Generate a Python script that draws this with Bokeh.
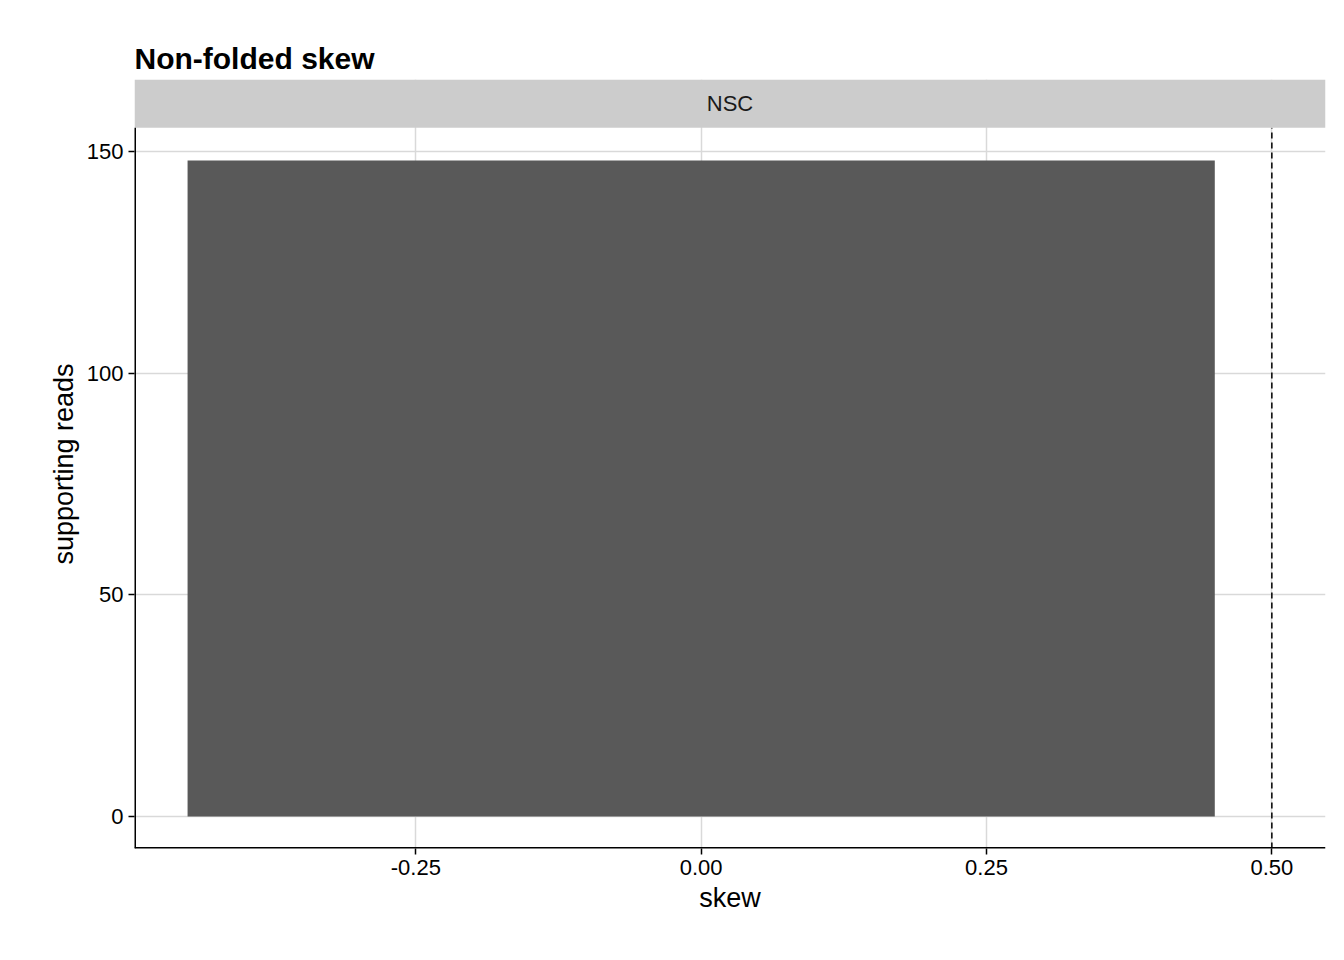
from bokeh.plotting import figure
from bokeh.models import FixedTicker, Range1d
from bokeh.core.properties import value
from bokeh.embed import file_html
from bokeh.resources import INLINE

skew = [0.0]
reads = [148]
bar_width = 0.9
threshold = 0.5
strip_label = "NSC"
x_ticks = [-0.25, 0.0, 0.25, 0.5]
x_tick_labels = ["-0.25", "0.00", "0.25", "0.50"]
y_ticks = [0, 50, 100, 150]

x0, x1 = -0.4965, 0.547
y0, ytop = -7.2, 155.4
strip_top = 166.3
font = "Liberation Sans"

p = figure(width=1328, height=944, x_range=Range1d(x0, x1), y_range=Range1d(y0, strip_top),
           output_backend="svg", toolbar_location=None, title="Non-folded skew",
           min_border_left=134, min_border_right=3, min_border_top=79, min_border_bottom=96)
p.title.text_font = font
p.title.text_font_size = "30px"
p.title.text_font_style = "bold"
p.title.text_color = "black"
p.title.offset = 0
p.outline_line_color = None

p.xgrid.grid_line_color = "#d9d9d9"
p.ygrid.grid_line_color = "#d9d9d9"
p.xgrid.grid_line_width = 1.5
p.ygrid.grid_line_width = 1.5
p.xaxis.ticker = FixedTicker(ticks=x_ticks)
p.xaxis.major_label_overrides = dict(zip(x_ticks, x_tick_labels))
p.yaxis.ticker = FixedTicker(ticks=y_ticks)
p.xaxis.axis_label = "skew"
p.yaxis.axis_label = "supporting reads"
for ax in (p.xaxis, p.yaxis):
    ax.minor_tick_line_color = None
    ax.major_tick_in = 0
    ax.major_tick_out = 6
    ax.major_label_text_font = font
    ax.major_label_text_font_size = "22px"
    ax.major_label_text_color = "black"
    ax.axis_label_text_font = font
    ax.axis_label_text_font_size = "27px"
    ax.axis_label_text_font_style = "normal"
    ax.axis_label_text_color = "black"
    ax.axis_line_color = None
    ax.major_tick_line_color = "black"
    ax.major_tick_line_width = 1.5

p.vbar(x=skew, top=reads, width=bar_width, bottom=0, fill_color="#595959", line_color=None)
p.segment(x0=[threshold], y0=[y0], x1=[threshold], y1=[ytop], line_color="black",
          line_width=1.5, line_dash="6 4")

# facet strip
p.quad(left=[x0], right=[x1], bottom=[ytop], top=[strip_top], fill_color="#cccccc", line_color=None)
p.text(x=[(x0 + x1) / 2], y=[(ytop + strip_top) / 2], text=[strip_label], text_align="center",
       text_baseline="middle", text_font=value(font), text_font_size="22px", text_color="#1a1a1a")

# axis spines
p.segment(x0=[x0, x0], y0=[y0, y0], x1=[x0, x1], y1=[ytop, y0], line_color="black", line_width=3)

open("out.html", "w").write(file_html(p, INLINE))
